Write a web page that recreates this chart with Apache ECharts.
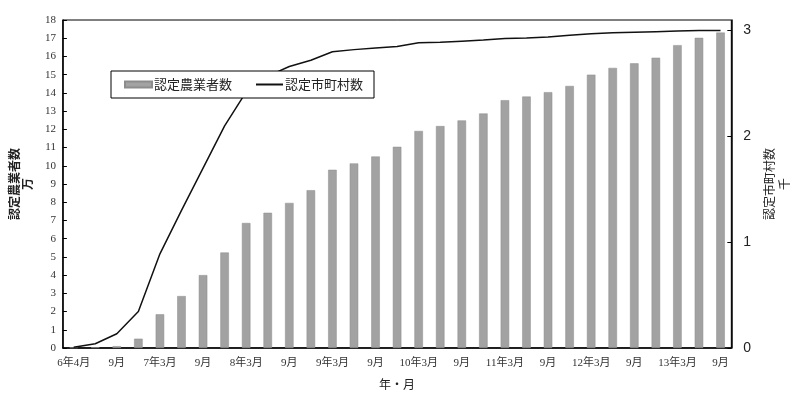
<!DOCTYPE html>
<html><head><meta charset="utf-8">
<script src="https://cdn.jsdelivr.net/npm/echarts@6/dist/echarts.min.js"></script>
<style>html,body{margin:0;padding:0;background:#fff}#c{width:800px;height:395px}</style>
</head><body><div id="c"></div>
<script>
var categories = ["6年4月","6月","9月","12月","7年3月","6月","9月","12月","8年3月","6月","9月","12月","9年3月","6月","9月","12月","10年3月","6月","9月","12月","11年3月","6月","9月","12月","12年3月","6月","9月","12月","13年3月","6月","9月"];
// 認定農業者数 (万)
var farmers = [0.03,0.04,0.1,0.51,1.85,2.85,4.0,5.24,6.86,7.42,7.96,8.66,9.78,10.13,10.51,11.04,11.91,12.18,12.49,12.87,13.6,13.8,14.04,14.38,15.0,15.37,15.62,15.93,16.62,17.02,17.31];
// 認定市町村数 (千)
var municipalities = [0.007,0.04,0.135,0.345,0.89,1.30,1.70,2.10,2.42,2.57,2.66,2.72,2.80,2.82,2.835,2.85,2.885,2.89,2.90,2.91,2.925,2.93,2.94,2.955,2.97,2.98,2.985,2.99,2.995,3.0,3.0];
var leftTicks = [0,18,1];
var rightTicks = [0,3.1,1];

var chart = echarts.init(document.getElementById('c'));
var jp = '"Noto Sans CJK JP", sans-serif';
var serif = '"Liberation Serif","DejaVu Serif","Noto Sans CJK JP", serif';
chart.setOption({
  animation: false,
  backgroundColor: '#fff',
  grid: {left: 55, right: 56, top: 20, bottom: 43, show: true, borderColor: '#000', borderWidth: 1},
  legend: {
    left: 111, top: 71, orient: 'horizontal',
    padding: [7, 11, 7, 13],
    itemGap: 23, itemWidth: 27, itemHeight: 6,
    backgroundColor: '#fff', borderColor: '#000', borderWidth: 1,
    textStyle: {fontFamily: jp, fontSize: 13, color: '#222', padding: [0, 0, 0, -3]},
    data: [
      {name: '認定農業者数', icon: 'rect'},
      {name: '認定市町村数', itemStyle: {opacity: 0}}
    ]
  },
  xAxis: {
    type: 'category', data: categories,
    name: '年・月', nameLocation: 'middle', nameGap: 30,
    nameTextStyle: {fontFamily: jp, fontSize: 12, color: '#222'},
    axisLine: {lineStyle: {color: '#000', width: 1.5}},
    axisTick: {inside: true, length: 4, lineStyle: {color: '#000'}},
    axisLabel: {interval: 1, fontFamily: serif, fontSize: 11, color: '#333', margin: 10}
  },
  yAxis: [{
    type: 'value', min: leftTicks[0], max: leftTicks[1], interval: leftTicks[2],
    name: '認定農業者数\n万', nameLocation: 'middle', nameRotate: 90, nameGap: 26,
    nameTextStyle: {fontFamily: jp, fontSize: 12, fontWeight: 'bold', color: '#222', lineHeight: 13, align: 'center'},
    axisLine: {show: true, lineStyle: {color: '#000', width: 1.5}},
    axisTick: {show: true, inside: true, length: 4, lineStyle: {color: '#000'}},
    splitLine: {show: false},
    axisLabel: {fontFamily: serif, fontSize: 11, color: '#333', margin: 7}
  }, {
    type: 'value', min: rightTicks[0], max: rightTicks[1], interval: rightTicks[2],
    name: '認定市町村数\n千', nameLocation: 'middle', nameRotate: 90, nameGap: 27,
    nameTextStyle: {fontFamily: jp, fontSize: 12, color: '#222', lineHeight: 15, align: 'center'},
    axisLine: {show: true, lineStyle: {color: '#000', width: 1.5}},
    axisTick: {show: true, inside: true, length: 4, lineStyle: {color: '#000'}},
    splitLine: {show: false},
    axisLabel: {showMaxLabel: false, fontFamily: '"Liberation Sans", Arial, sans-serif', fontSize: 14, color: '#222', margin: 12,
      formatter: function (v) { return Math.abs(v - Math.round(v)) < 1e-9 ? String(v) : ''; }}
  }],
  series: [{
    name: '認定農業者数', type: 'bar', data: farmers, yAxisIndex: 0,
    barWidth: 8.5,
    itemStyle: {color: '#a2a2a2', borderColor: '#8c8c8c', borderWidth: 0.5}
  }, {
    name: '認定市町村数', type: 'line', data: municipalities, yAxisIndex: 1,
    symbol: 'none', z: 3,
    lineStyle: {color: '#111', width: 1.5},
    itemStyle: {color: '#111'}
  }]
});
</script>
</body></html>
